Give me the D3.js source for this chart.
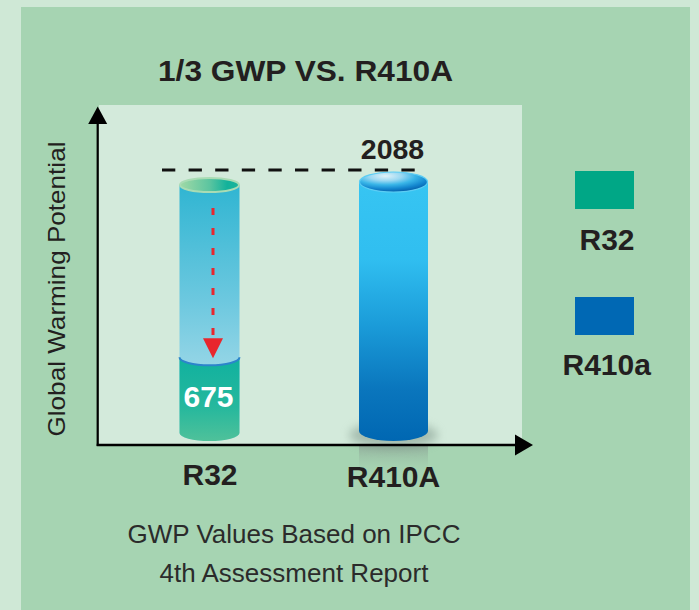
<!DOCTYPE html>
<html>
<head>
<meta charset="utf-8">
<script src="https://cdn.jsdelivr.net/npm/d3@7/dist/d3.min.js"></script>
<style>
  html, body { margin: 0; padding: 0; background: #cfe8d6; }
  svg { display: block; }
  text { font-family: "Liberation Sans", Arial, Helvetica, sans-serif; fill: #231f20; }
</style>
</head>
<body>
<script>
// Refrigerant GWP comparison (IPCC AR4 values)
const categories = ["R32", "R410A"];
const gwpValues = [675, 2088];
const legendLabels = ["R32", "R410a"];
const titleText = "1/3 GWP VS. R410A";
const yAxisTitle = "Global Warming Potential";
const footnoteLines = ["GWP Values Based on IPCC", "4th Assessment Report"];

const W = 699, H = 610;
const svg = d3.select("body").append("svg").attr("width", W).attr("height", H);
const defs = svg.append("defs");

// panels
svg.append("rect").attr("x", 0).attr("y", 0).attr("width", W).attr("height", H).attr("fill", "#cfe8d6");
svg.append("rect").attr("x", 21).attr("y", 7).attr("width", 669).attr("height", H).attr("fill", "#a6d4b2");
svg.append("rect").attr("x", 99).attr("y", 105).attr("width", 423).attr("height", 340).attr("fill", "#d3eadb");

const maxV = d3.max(gwpValues);
const y = d3.scaleLinear().domain([0, maxV]).range([441, 182]);
const x = d3.scalePoint().domain(categories).range([209.5, 393.5]);
const barShape = { "R32": { w: 60, ry: 8 }, "R410A": { w: 69, ry: 10 } };

// gradients
function linGrad(id, stops, x1, y1, x2, y2) {
  const g = defs.append("linearGradient").attr("id", id)
    .attr("x1", x1).attr("y1", y1).attr("x2", x2).attr("y2", y2);
  stops.forEach(s => g.append("stop").attr("offset", s[0]).attr("stop-color", s[1]).attr("stop-opacity", s[2] == null ? 1 : s[2]));
}
linGrad("emptyGrad", [[0, "#30b5d2"], [0.45, "#6cc8df"], [1, "#c2e4ee"]], 0, 0, 0, 1);
linGrad("tealGrad", [[0, "#10b19f"], [0.6, "#26b89d"], [1, "#4fc19a"]], 0, 0, 0, 1);
linGrad("openTopGrad", [[0, "#a0d9a6"], [0.5, "#5cc5a0"], [0.8, "#12b29b"], [1, "#1bb49b"]], 0, 0, 1, 0);
linGrad("blueGrad", [[0, "#37c5f2"], [0.3, "#30bef0"], [0.55, "#1b9cd9"], [0.8, "#0a76bd"], [1, "#0067b2"]], 0, 0, 0, 1);
linGrad("reflGrad", [[0, "#8fa999", 0.8], [1, "#a6d4b2", 0]], 0, 0, 0, 1);
const rg = defs.append("radialGradient").attr("id", "capGrad")
  .attr("cx", "38%").attr("cy", "20%").attr("r", "80%");
[[0, "#e0f1f8"], [0.3, "#9ad8f2"], [0.55, "#3ab6e8"], [0.8, "#1487cf"], [1, "#0662ad"]]
  .forEach(s => rg.append("stop").attr("offset", s[0]).attr("stop-color", s[1]));
defs.append("filter").attr("id", "blur").attr("x", "-50%").attr("y", "-50%").attr("width", "200%").attr("height", "200%")
  .append("feGaussianBlur").attr("stdDeviation", 5);

// title
svg.append("text").attr("x", 305.5).attr("y", 80.5).attr("text-anchor", "middle")
  .attr("font-size", 29).attr("font-weight", "bold")
  .attr("textLength", 295).attr("lengthAdjust", "spacingAndGlyphs").text(titleText);

// y-axis title
svg.append("text").attr("transform", "translate(65,289) rotate(-90)")
  .attr("text-anchor", "middle").attr("font-size", 24.5)
  .attr("textLength", 295).attr("lengthAdjust", "spacingAndGlyphs").text(yAxisTitle);

// reflection and shadow under the taller cylinder
const big = categories[1];
const bx0 = x(big) - barShape[big].w / 2;
svg.append("rect").attr("x", bx0).attr("y", 446).attr("width", barShape[big].w).attr("height", 30).attr("fill", "url(#reflGrad)");
svg.append("ellipse").attr("cx", x(big)).attr("cy", y(0) - 6).attr("rx", barShape[big].w / 2 + 10).attr("ry", 13)
  .attr("fill", "#7f978a").attr("opacity", 0.55).attr("filter", "url(#blur)");

function bodyPath(cx, w, ry, yTop, yBot) {
  const x0 = cx - w / 2, x1 = cx + w / 2, rx = w / 2;
  return `M${x0},${yTop} L${x0},${yBot} A${rx},${ry} 0 0 0 ${x1},${yBot} L${x1},${yTop} Z`;
}

// R32: full-height container with the actual level filled
{
  const c = categories[0], v = gwpValues[0];
  const cx = x(c), w = barShape[c].w, ry = barShape[c].ry, rx = w / 2;
  const yBot = y(0) - ry, yTop = y(maxV) + 3, yF = y(v);
  svg.append("path").attr("d", bodyPath(cx, w, ry, yTop, yBot)).attr("fill", "url(#emptyGrad)");
  const x0 = cx - rx, x1 = cx + rx;
  svg.append("path")
    .attr("d", `M${x0},${yF} A${rx},${ry} 0 0 0 ${x1},${yF} L${x1},${yBot} A${rx},${ry} 0 0 1 ${x0},${yBot} Z`)
    .attr("fill", "url(#tealGrad)");
  svg.append("path").attr("d", `M${x0},${yF} A${rx},${ry} 0 0 0 ${x1},${yF}`)
    .attr("fill", "none").attr("stroke", "#2c84cb").attr("stroke-width", 2);
  svg.append("ellipse").attr("cx", cx).attr("cy", yTop).attr("rx", rx - 0.5).attr("ry", ry - 1)
    .attr("fill", "url(#openTopGrad)").attr("stroke", "#a9dcb4").attr("stroke-width", 2);

  // drop arrow from the reference level down to the R32 level
  svg.append("line").attr("x1", cx + 3.5).attr("x2", cx + 3.5).attr("y1", y(maxV) + 26).attr("y2", yF - 16)
    .attr("stroke", "#e8262d").attr("stroke-width", 3).attr("stroke-dasharray", "7,13");
  svg.append("path")
    .attr("d", `M${cx + 3.5 - 10},${yF - 19} L${cx + 3.5 + 10},${yF - 19} L${cx + 3.5},${yF + 1} Z`)
    .attr("fill", "#e8262d");

  svg.append("text").attr("x", cx - 1).attr("y", (yF + y(0)) / 2 + 8)
    .attr("text-anchor", "middle").attr("font-size", 30).attr("font-weight", "bold")
    .style("fill", "#ffffff").text(v);
}

// R410A: solid cylinder
{
  const c = categories[1], v = gwpValues[1];
  const cx = x(c), w = barShape[c].w, ry = barShape[c].ry, rx = w / 2;
  const yBot = y(0) - ry, yTop = y(v);
  svg.append("path").attr("d", bodyPath(cx, w, ry, yTop, yBot)).attr("fill", "url(#blueGrad)");
  svg.append("ellipse").attr("cx", cx).attr("cy", yTop).attr("rx", rx - 0.5).attr("ry", ry)
    .attr("fill", "url(#capGrad)").attr("stroke", "#5ccdf4").attr("stroke-width", 1.2);
  svg.append("text").attr("x", cx - 1).attr("y", yTop - 23)
    .attr("text-anchor", "middle").attr("font-size", 28.5).attr("font-weight", "bold").text(v);
}

// dashed reference line at the R410A level
svg.append("line").attr("x1", 162).attr("x2", 418)
  .attr("y1", y(maxV) - 12).attr("y2", y(maxV) - 12)
  .attr("stroke", "#111").attr("stroke-width", 3.2).attr("stroke-dasharray", "13.3,13.3");

// axes with arrowheads
const axisY = 445, axisX = 97.7;
svg.append("line").attr("x1", axisX - 1).attr("x2", 518).attr("y1", axisY).attr("y2", axisY)
  .attr("stroke", "#000").attr("stroke-width", 2.6);
svg.append("path").attr("d", `M515,${axisY - 10.5} L533,${axisY} L515,${axisY + 10.5} Z`).attr("fill", "#000");
svg.append("line").attr("x1", axisX).attr("x2", axisX).attr("y1", axisY + 1).attr("y2", 120)
  .attr("stroke", "#000").attr("stroke-width", 2.2);
svg.append("path").attr("d", `M${axisX - 9.5},124 L${axisX},106.5 L${axisX + 9.5},124 Z`).attr("fill", "#000");

// category labels
svg.selectAll("text.cat").data(categories).enter().append("text").attr("class", "cat")
  .attr("x", d => x(d) + (d === "R32" ? 0.5 : 0))
  .attr("y", (d, i) => i === 0 ? 484.5 : 487)
  .attr("text-anchor", "middle").attr("font-size", 30).attr("font-weight", "bold").text(d => d);

// legend
const legendColors = ["#00a786", "#0068b4"];
const lg = svg.append("g");
legendLabels.forEach((lab, i) => {
  const top = 171 + i * 126;
  lg.append("rect").attr("x", 575).attr("y", top).attr("width", 59).attr("height", 38).attr("fill", legendColors[i]);
  lg.append("text").attr("x", i === 0 ? 607 : 606.7).attr("y", top + 78.5 - i * 0.3)
    .attr("text-anchor", "middle").attr("font-size", 30).attr("font-weight", "bold").text(lab);
});

// footnote
footnoteLines.forEach((t, i) => {
  svg.append("text").attr("x", 294).attr("y", 543 + i * 38.5).attr("text-anchor", "middle")
    .attr("font-size", 26).style("fill", "#2b2b2b").text(t);
});
</script>
</body>
</html>
